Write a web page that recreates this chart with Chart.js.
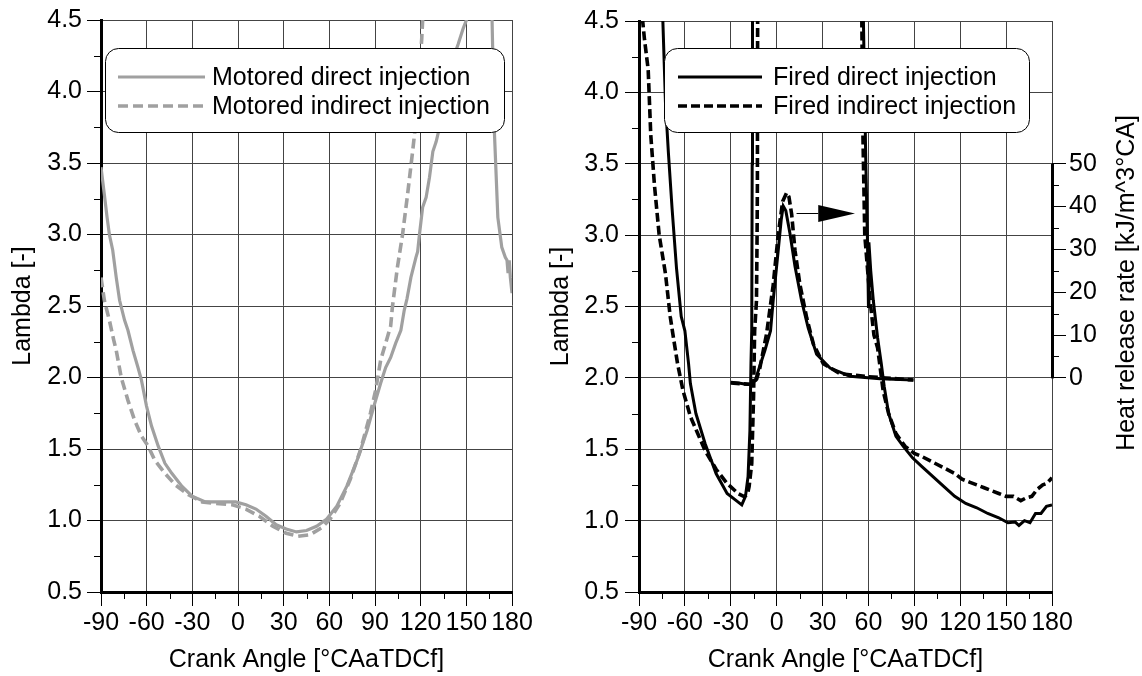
<!DOCTYPE html>
<html><head><meta charset="utf-8">
<script src="https://cdn.jsdelivr.net/npm/chart.js@4.4.1/dist/chart.umd.min.js"></script>
<style>
html,body{margin:0;padding:0;background:#fff;}
body{width:1142px;height:676px;position:relative;overflow:hidden;}
canvas{position:absolute;top:0;}
#c1{left:0;} #c2{left:540px;}
</style></head><body>
<canvas id="c1" width="540" height="676"></canvas>
<canvas id="c2" width="602" height="676"></canvas>
<script>
// ---------- tick labels ----------
const xTicks = [-90,-60,-30,0,30,60,90,120,150,180];
const xMinorTicks = [-75,-45,-15,15,45,75,105,135,165];
const yTicks = [0.5,1.0,1.5,2.0,2.5,3.0,3.5,4.0,4.5];
const yMinorTicks = [0.75,1.25,1.75,2.25,2.75,3.25,3.75,4.25];
const hrrTicks = [0,10,20,30,40,50];
const hrrMinorTicks = [5,15,25,35,45];

const xTitle = 'Crank Angle [°CAaTDCf]';
const yTitle = 'Lambda [-]';
const hrrTitle = 'Heat release rate [kJ/m^3°CA]';

// ---------- left panel: motored ----------
const motoredDI_angle = [-90,-87.8,-86,-84.5,-82.3,-80,-77.8,-74.5,-72.3,-69,-65.7,-63.4,-60.1,-56.8,-52.4,-48,-43.5,-36.9,-30.2,-21.4,-10.3,-1.5,5.2,11.8,18.4,25.1,31.7,38.4,45,51.6,58.3,64.9,71.5,78.2,84.8,89.3,93.7,97,100.3,103.6,107,109.2,111,113.6,116.9,118,119.2,121.3,123.6,125.8,128,130.2,132.4,134.6,137.9,141.3,144.6,147.9,150.1,151,158,166.7,168.5,170.7,173.3,175.6,176.7,177.4,178.2,178.9,180];
const motoredDI_lambda = [3.47,3.28,3.12,3.00,2.89,2.70,2.54,2.40,2.33,2.19,2.07,1.98,1.80,1.66,1.52,1.40,1.33,1.24,1.17,1.13,1.13,1.13,1.11,1.08,1.03,0.97,0.94,0.92,0.93,0.96,1.01,1.10,1.24,1.42,1.63,1.80,1.96,2.07,2.14,2.24,2.33,2.47,2.55,2.70,2.84,2.88,3.00,3.19,3.26,3.40,3.58,3.65,3.75,3.93,4.07,4.23,4.33,4.44,4.50,4.60,null,4.60,3.70,3.12,2.91,2.84,2.82,2.73,2.82,2.70,2.59];

const motoredIDI_angle = [-90,-87.8,-84.5,-81.6,-80,-76.7,-72.3,-67.9,-63.4,-59,-54.6,-48,-41.3,-32.5,-23.6,-14.8,-3.7,5.2,14,22.9,31.7,39.5,47.2,55,60.5,67.1,73.8,80.4,87,90.4,93.7,97,100.3,101.4,104.7,108.1,111.4,114.7,116.9,119.1,120.7,121.3,122];
const motoredIDI_lambda = [2.70,2.54,2.40,2.26,2.19,2.00,1.84,1.70,1.59,1.52,1.42,1.33,1.25,1.18,1.13,1.12,1.11,1.08,1.03,0.96,0.91,0.89,0.90,0.95,1.01,1.12,1.29,1.49,1.75,1.91,2.12,2.24,2.36,2.49,2.77,3.00,3.28,3.58,3.79,4.09,4.37,4.50,4.70];

// ---------- right panel: fired ----------
const firedDI_angle = [-75,-74.4,-72.7,-70.8,-68.4,-65.5,-62.4,-60,-57.6,-56.4,-52.8,-46.8,-39.6,-32.4,-26.4,-22.8,-20.4,-18.7,-17.5,-16.8,-16.3,-16.0,-15.8,20,56.4,57.5,58.3,59.3,60.0,60.3,61.5,63.2,66,68.4,70.3,73.2,78,82.8,88.8,94.8,102,109.2,116.4,123.6,130.8,138,145.2,151.2,156,158.4,162,165.6,169.2,172.8,176.4,180];
const firedDI_lambda = [4.70,4.50,3.93,3.58,3.19,2.77,2.43,2.33,2.10,1.96,1.75,1.54,1.33,1.19,1.14,1.11,1.17,1.31,1.63,2.10,2.33,3.50,4.70,null,4.70,4.00,3.50,3.00,2.50,2.95,2.75,2.54,2.28,2.10,1.94,1.75,1.59,1.52,1.44,1.38,1.31,1.24,1.17,1.12,1.09,1.05,1.02,0.985,0.99,0.966,1.00,0.985,1.05,1.05,1.10,1.11];

const firedIDI_angle = [-88.2,-87.6,-86.4,-84,-82.3,-79.9,-76.8,-72.7,-69.6,-67.9,-64.8,-61.2,-56.4,-51.6,-46.8,-39.6,-32.4,-25.2,-21.6,-19.2,-18,-16.3,-15.1,-14.4,-13.2,-12.8,-12.6,-12.5,-12.4,20,55.5,56.4,57.6,59.5,61.5,63.6,66,69.6,73.2,78,84,90,94.8,102,109.2,116.4,121.2,126,130.8,135.6,140.4,145.2,150,154.8,159.6,163.2,166.8,170.4,174,176.4,180];
const firedIDI_lambda = [4.70,4.50,4.37,4.16,3.70,3.35,3.00,2.73,2.43,2.31,2.10,1.91,1.73,1.61,1.49,1.36,1.26,1.19,1.17,1.18,1.24,1.40,1.87,2.33,2.54,3.00,3.35,4.16,4.70,null,4.70,3.70,3.00,2.75,2.50,2.30,2.21,1.91,1.75,1.61,1.52,1.47,1.45,1.41,1.37,1.33,1.29,1.27,1.25,1.23,1.21,1.19,1.17,1.17,1.14,1.16,1.17,1.22,1.25,1.26,1.30];

const hrrDI_angle = [-30,-25,-20,-17,-15,-13.9,-12,-7.7,-4,-2.3,1,3,4.3,6,8.7,12,16.3,20.6,26.1,34.9,48,67.6,89.4];
const hrrDI_value = [-1.0,-1.2,-1.5,-1.6,-1.0,-0.5,1.7,6.4,11,18,29.7,37,40.1,39,33.7,26,18,11.7,5.5,2.3,0.4,-0.2,-0.5];

const hrrIDI_angle = [-30,-22,-16,-13.1,-11,-6.6,-2.3,1,3.9,6.5,8,9.8,12,15.2,19.6,24,30.5,41.4,58.9,89.4];
const hrrIDI_value = [-1.2,-1.4,-1.5,-0.3,2.3,10.3,21.6,33.4,41.2,43.2,42.3,38.2,29.7,21.8,14.1,7.9,3.3,1.0,0.3,-0.5];

// ---------- styling ----------
const FONT = "'Liberation Sans', Arial, Helvetica, sans-serif";
const FS = 25;
Chart.defaults.font.family = FONT;
Chart.defaults.font.size = FS;
Chart.defaults.color = '#000';
const GRAY = '#a0a0a0';
const BLACK = '#000000';
const GRID = '#444444';

function series(label, angles, values, color, dash, width, axis) {
  return {
    label: label,
    data: angles.map((a, i) => ({x: a, y: values[i]})),
    borderColor: color, backgroundColor: color,
    borderWidth: width, borderDash: dash,
    pointRadius: 0, pointHoverRadius: 0, fill: false, tension: 0,
    spanGaps: false, yAxisID: axis || 'y'
  };
}

function roundRectPath(ctx, x, y, w, h, r) {
  ctx.beginPath();
  ctx.moveTo(x + r, y);
  ctx.lineTo(x + w - r, y);
  ctx.arcTo(x + w, y, x + w, y + r, r);
  ctx.lineTo(x + w, y + h - r);
  ctx.arcTo(x + w, y + h, x + w - r, y + h, r);
  ctx.lineTo(x + r, y + h);
  ctx.arcTo(x, y + h, x, y + h - r, r);
  ctx.lineTo(x, y + r);
  ctx.arcTo(x, y, x + r, y, r);
  ctx.closePath();
}

function minorTicksPlugin() {
  return {
    id: 'minorTicks',
    afterDraw(chart) {
      const {ctx, scales} = chart;
      const xs = scales.x, ys = scales.y;
      ctx.save();
      ctx.strokeStyle = '#000';
      ctx.lineWidth = 1;
      ctx.beginPath();
      xMinorTicks.forEach(v => {
        const p = Math.round(xs.getPixelForValue(v)) + 0.5;
        ctx.moveTo(p, xs.top); ctx.lineTo(p, xs.top + 7);
      });
      yMinorTicks.forEach(v => {
        const p = Math.round(ys.getPixelForValue(v)) + 0.5;
        ctx.moveTo(ys.right - 7, p); ctx.lineTo(ys.right, p);
      });
      if (scales.y2) {
        hrrMinorTicks.forEach(v => {
          const p = Math.round(scales.y2.getPixelForValue(v)) + 0.5;
          ctx.moveTo(scales.y2.left, p); ctx.lineTo(scales.y2.left + 7, p);
        });
      }
      ctx.stroke();
      ctx.restore();
    }
  };
}

function legendPlugin(box) {
  return {
    id: 'legendBox',
    afterDraw(chart) {
      const ctx = chart.ctx;
      ctx.save();
      roundRectPath(ctx, box.x0 + 0.5, box.y0 + 0.5, box.x1 - box.x0, box.y1 - box.y0, 13);
      ctx.fillStyle = '#fff'; ctx.fill();
      ctx.lineWidth = 1; ctx.strokeStyle = '#000'; ctx.stroke();
      box.items.forEach((idx, k) => {
        const ds = chart.data.datasets[idx];
        const y = box.rows[k];
        ctx.beginPath();
        ctx.setLineDash(ds.borderDash || []);
        ctx.lineWidth = ds.borderWidth;
        ctx.strokeStyle = ds.borderColor;
        ctx.moveTo(box.lineX0, y); ctx.lineTo(box.lineX1, y);
        ctx.stroke();
        ctx.setLineDash([]);
        ctx.fillStyle = '#000';
        ctx.font = FS + 'px ' + FONT;
        ctx.textBaseline = 'middle';
        ctx.textAlign = 'left';
        ctx.fillText(ds.label, box.textX, y + 1);
      });
      ctx.restore();
    }
  };
}

const hrrAxisPlugin = {
  id: 'hrrAxis',
  afterDraw(chart) {
    const s = chart.scales.y2;
    const ctx = chart.ctx;
    const x = s.left;
    const p0 = s.getPixelForValue(hrrTicks[0]);
    const p1 = s.getPixelForValue(hrrTicks[hrrTicks.length - 1]);
    ctx.save();
    ctx.strokeStyle = '#000';
    ctx.lineWidth = 3;
    ctx.beginPath();
    ctx.moveTo(x + 0.5, p0 + 0.5); ctx.lineTo(x + 0.5, p1);
    ctx.stroke();
    ctx.translate(594, 283);
    ctx.rotate(-Math.PI / 2);
    ctx.fillStyle = '#000';
    ctx.font = FS + 'px ' + FONT;
    ctx.textAlign = 'center';
    ctx.textBaseline = 'alphabetic';
    ctx.fillText(hrrTitle, 0, 0);
    ctx.restore();
  }
};

const arrowPlugin = {
  id: 'arrow',
  afterDatasetsDraw(chart) {
    const {ctx, scales} = chart;
    const a0 = scales.x.getPixelForValue(13);
    const a1 = scales.x.getPixelForValue(27.2);
    const a2 = scales.x.getPixelForValue(51.2);
    const py = Math.round(scales.y.getPixelForValue(3.152)) + 0.5;
    ctx.save();
    ctx.strokeStyle = '#000'; ctx.fillStyle = '#000'; ctx.lineWidth = 1;
    ctx.beginPath(); ctx.moveTo(a0, py); ctx.lineTo(a1, py); ctx.stroke();
    ctx.beginPath(); ctx.moveTo(a1, py - 8.5); ctx.lineTo(a2, py); ctx.lineTo(a1, py + 8.5); ctx.closePath(); ctx.fill();
    ctx.restore();
  }
};

function xScale() {
  return {
    type: 'linear', position: 'bottom', min: -90, max: 180,
    afterBuildTicks: s => { s.ticks = xTicks.map(v => ({value: v})); },
    afterFit: s => { s.height = 84; },
    grid: {display: true, color: GRID, lineWidth: 1, drawTicks: true, tickLength: 14, tickColor: '#000'},
    border: {display: true, color: '#000', width: 3},
    ticks: {autoSkip: false, maxRotation: 0, minRotation: 0, padding: 2, color: '#000', font: {size: FS},
            callback: v => String(v)},
    title: {display: true, text: xTitle, color: '#000', font: {size: FS}, padding: {top: 0, bottom: 1}}
  };
}
function yScale(width, tickPad, titlePad) {
  return {
    type: 'linear', position: 'left', min: 0.5, max: 4.5,
    afterBuildTicks: s => { s.ticks = yTicks.map(v => ({value: v})); },
    afterFit: s => { s.width = width; },
    grid: {display: true, color: GRID, lineWidth: 1, drawTicks: true, tickLength: 14, tickColor: '#000'},
    border: {display: true, color: '#000', width: 3},
    ticks: {autoSkip: false, padding: tickPad, color: '#000', font: {size: FS}, callback: v => Number(v).toFixed(1)},
    title: {display: true, text: yTitle, color: '#000', font: {size: FS}, padding: {top: titlePad, bottom: 0}}
  };
}

// ---------- left chart ----------
new Chart(document.getElementById('c1'), {
  type: 'line',
  data: {datasets: [
    series('Motored direct injection', motoredDI_angle, motoredDI_lambda, GRAY, [], 3.2),
    series('Motored indirect injection', motoredIDI_angle, motoredIDI_lambda, GRAY, [10, 5], 3.6)
  ]},
  options: {
    responsive: false, animation: false, devicePixelRatio: 1,
    layout: {padding: {left: 0, right: 28, top: 19, bottom: 0}},
    plugins: {legend: {display: false}, tooltip: {enabled: false}},
    scales: {x: xScale(), y: yScale(101, 5, 8)}
  },
  plugins: [minorTicksPlugin(), legendPlugin({x0: 105, y0: 48, x1: 504, y1: 132, lineX0: 118, lineX1: 205, textX: 212, rows: [77, 106], items: [0, 1]})]
});

// ---------- right chart ----------
const y2 = {
  type: 'linear', position: 'right', min: -50, max: 250 / 3,
  afterBuildTicks: s => { s.ticks = hrrTicks.map(v => ({value: v})); },
  afterFit: s => { s.width = 90; },
  grid: {display: true, drawOnChartArea: false, drawTicks: true, tickLength: 14, tickColor: '#000', color: '#000'},
  border: {display: false},
  ticks: {autoSkip: false, padding: 3, color: '#000', font: {size: FS}, callback: v => String(v)},
  title: {display: false}
};

new Chart(document.getElementById('c2'), {
  type: 'line',
  data: {datasets: [
    series('Fired direct injection', firedDI_angle, firedDI_lambda, BLACK, [], 3),
    series('Fired indirect injection', firedIDI_angle, firedIDI_lambda, BLACK, [9, 4], 3.6),
    series('HRR direct injection', hrrDI_angle, hrrDI_value, BLACK, [], 3, 'y2'),
    series('HRR indirect injection', hrrIDI_angle, hrrIDI_value, BLACK, [9, 4], 3.6, 'y2')
  ]},
  options: {
    responsive: false, animation: false, devicePixelRatio: 1,
    layout: {padding: {left: 0, right: 0, top: 19, bottom: 0}},
    plugins: {legend: {display: false}, tooltip: {enabled: false}},
    scales: {x: xScale(), y: yScale(99, 6, 6), y2: y2}
  },
  plugins: [minorTicksPlugin(), arrowPlugin, hrrAxisPlugin, legendPlugin({x0: 124, y0: 48, x1: 489, y1: 132, lineX0: 138, lineX1: 222, textX: 233, rows: [77, 106], items: [0, 1]})]
});
</script>
</body></html>
